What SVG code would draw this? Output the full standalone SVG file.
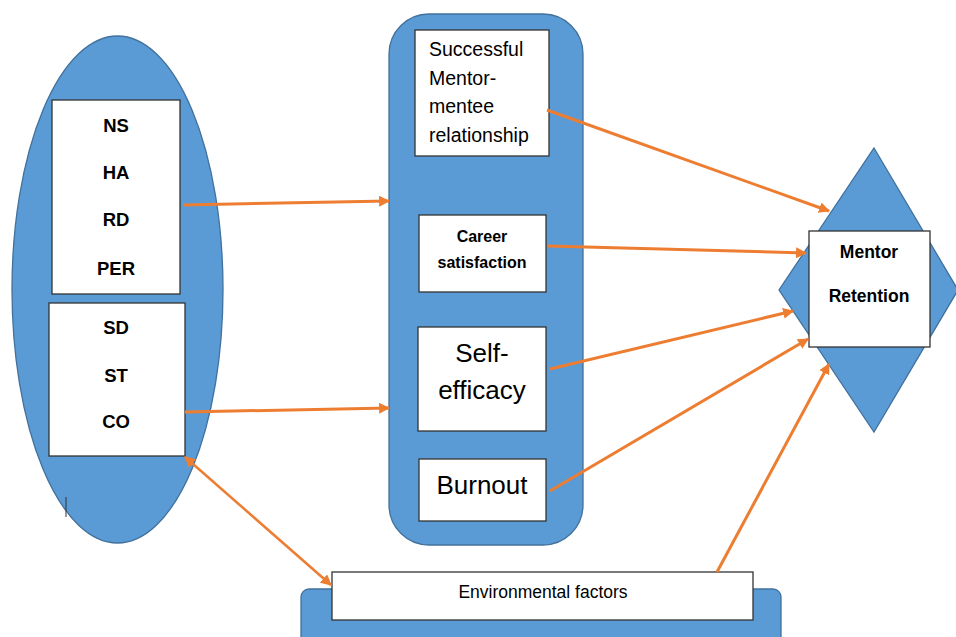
<svg xmlns="http://www.w3.org/2000/svg" width="956" height="637" viewBox="0 0 956 637">
<defs>
<marker id="ah" viewBox="0 0 10 10" refX="9" refY="5" markerWidth="11" markerHeight="11" markerUnits="userSpaceOnUse" orient="auto-start-reverse">
<path d="M0,0 L10,5 L0,10 z" fill="#ED7D31"/>
</marker>
<style>
.blue{fill:#5B9BD5;stroke:#41719C;stroke-width:1.3}
.box{fill:#fff;stroke:#333;stroke-width:1.3}
.t{font-family:"Liberation Sans",Arial,sans-serif;fill:#000}
.b{font-weight:bold;font-size:18.5px;text-anchor:middle}
.conn line{stroke:#ED7D31;stroke-width:3;marker-end:url(#ah)}
</style>
</defs>
<rect width="956" height="637" fill="#fff"/>

<g id="ellipse-group">
<ellipse class="blue" cx="117.5" cy="289.5" rx="105.5" ry="253.5"/>
<line x1="66" y1="497" x2="66" y2="517" stroke="#333" stroke-width="1"/>
</g>
<g id="node-upper">
<rect class="box" x="52" y="100" width="128" height="194"/>
<text class="t b" x="116" y="132">NS</text>
<text class="t b" x="116" y="179">HA</text>
<text class="t b" x="116" y="226">RD</text>
<text class="t b" x="116" y="275">PER</text>
</g>
<g id="node-lower">
<rect class="box" x="49" y="303" width="136" height="153"/>
<text class="t b" x="116" y="334">SD</text>
<text class="t b" x="116" y="382">ST</text>
<text class="t b" x="116" y="428">CO</text>
</g>

<g id="middle-panel">
<rect class="blue" x="389" y="14" width="194" height="531" rx="40"/>
</g>
<g id="node-successful">
<rect class="box" x="415" y="30" width="134" height="126"/>
<text class="t" x="429" y="56" font-size="19.5">Successful</text>
<text class="t" x="429" y="85" font-size="19.5">Mentor-</text>
<text class="t" x="429" y="113" font-size="19.5">mentee</text>
<text class="t" x="429" y="142" font-size="19.5">relationship</text>
</g>
<g id="node-career">
<rect class="box" x="419" y="215" width="127" height="77"/>
<text class="t" x="482" y="242" font-size="16" font-weight="bold" text-anchor="middle">Career</text>
<text class="t" x="482" y="268" font-size="16" font-weight="bold" text-anchor="middle">satisfaction</text>
</g>
<g id="node-selfefficacy">
<rect class="box" x="418" y="327" width="128" height="104"/>
<text class="t" x="482" y="362" font-size="26" text-anchor="middle">Self-</text>
<text class="t" x="482" y="399" font-size="26" text-anchor="middle">efficacy</text>
</g>
<g id="node-burnout">
<rect class="box" x="419" y="459" width="127" height="62"/>
<text class="t" x="482" y="494" font-size="26" text-anchor="middle">Burnout</text>
</g>

<g id="node-retention">
<polygon class="blue" points="874,148 958,290 874,432 779,290"/>
<rect class="box" x="809" y="231" width="121" height="116"/>
<text class="t" x="869" y="258" font-size="17.5" font-weight="bold" text-anchor="middle">Mentor</text>
<text class="t" x="869" y="302" font-size="17.5" font-weight="bold" text-anchor="middle">Retention</text>
</g>

<g id="node-environment">
<rect class="blue" x="301" y="589" width="480" height="70" rx="8"/>
<rect class="box" x="332" y="572" width="421" height="48"/>
<text class="t" x="543" y="598" font-size="17.5" text-anchor="middle">Environmental factors</text>
</g>

<g id="connectors" class="conn">
<line x1="183" y1="205" x2="389" y2="201"/>
<line x1="185" y1="412" x2="389" y2="408"/>
<line x1="547" y1="110" x2="829" y2="211"/>
<line x1="548" y1="246" x2="806" y2="253"/>
<line x1="550" y1="369" x2="793" y2="311"/>
<line x1="550" y1="491" x2="808" y2="339"/>
<line x1="717" y1="572" x2="829" y2="364"/>
<line x1="185" y1="457" x2="331" y2="585" style="stroke-width:2.5;marker-start:url(#ah)"/>
</g>
</svg>
